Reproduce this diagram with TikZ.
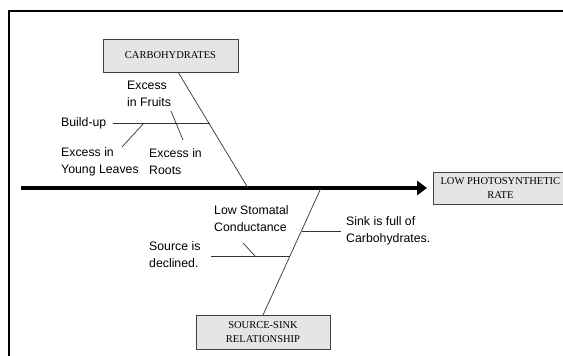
\documentclass[tikz,border=0pt]{standalone}
\usepackage{fontspec}
\setmainfont{Liberation Serif}
\newfontfamily\lblfont{Liberation Sans}
\usetikzlibrary{arrows.meta}
\begin{document}
\begin{tikzpicture}[x=1pt,y=-1pt,
  causebox/.style={draw=black!75,line width=0.8pt,fill=black!10,inner sep=0pt,
    font=\fontsize{10.5}{13.5}\selectfont,align=center},
  lbl/.style={inner sep=0pt,align=left,font=\lblfont\fontsize{12.3}{16.8}\selectfont},
  bone/.style={draw=black!80,line width=0.7pt}]
\useasboundingbox (0,0) rectangle (563,356);
\draw[line width=2pt] (9,356) -- (9,11) -- (564,11);
% boxes
\node[causebox,minimum width=135pt,minimum height=33pt] (carb) at (170.5,55.5) {CARBOHYDRATES};
\node[causebox,minimum width=134pt,minimum height=32pt,anchor=west] (effect) at (433,188) {LOW PHOTOSYNTHETIC\\RATE};
\node[causebox,minimum width=134pt,minimum height=34pt] (ss) at (263,332) {SOURCE-SINK\\RELATIONSHIP};
% main arrow
\coordinate (start) at (21,188);
\draw[line width=3.6pt,-{Triangle[length=10pt,width=14pt]},shorten >=6pt] (start) -- (effect.west);
% upper bone
\coordinate (c1) at (178,72);
\coordinate (j1) at (248,188);
\draw[bone] (c1) -- (j1);
\coordinate (bu1) at (113,123);
\coordinate (bu2) at (209.6,123);
\draw[bone] (bu1) -- (bu2);
\coordinate (yl1) at (144,123);
\coordinate (yl2) at (122,147);
\draw[bone] (yl1) -- (yl2);
\coordinate (fr1) at (171,111);
\coordinate (fr2) at (183,140);
\draw[bone] (fr1) -- (fr2);
% lower bone
\coordinate (j2) at (321,188);
\coordinate (c2) at (263,315);
\draw[bone] (j2) -- (c2);
\coordinate (sd1) at (211,256);
\coordinate (sd2) at (290,256);
\draw[bone] (sd1) -- (sd2);
\coordinate (ls1) at (243,243);
\coordinate (ls2) at (255,256);
\draw[bone] (ls1) -- (ls2);
\coordinate (sk1) at (301.7,231);
\coordinate (sk2) at (341,231);
\draw[bone] (sk1) -- (sk2);
% labels
\node[lbl,anchor=west] (tfruit) at (127,93.5) {Excess\\in Fruits};
\node[lbl,anchor=west] (tbuild) at (61,123) {Build-up};
\node[lbl,anchor=west] (tyoung) at (61,161.5) {Excess in\\Young Leaves};
\node[lbl,anchor=west] (troots) at (149,161.5) {Excess in\\Roots};
\node[lbl,anchor=west] (tstom) at (214,219) {Low Stomatal\\Conductance};
\node[lbl,anchor=west] (tsrc) at (149,254.5) {Source is\\declined.};
\node[lbl,anchor=west] (tsink) at (346,230.5) {Sink is full of\\Carbohydrates.};
\end{tikzpicture}
\end{document}
